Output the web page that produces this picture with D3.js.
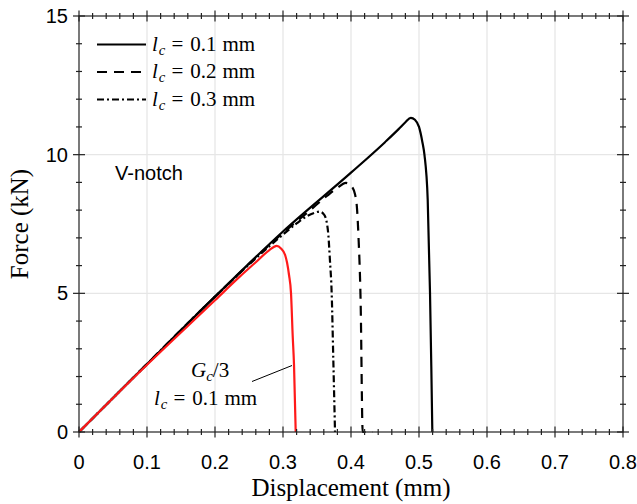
<!DOCTYPE html>
<html><head><meta charset="utf-8">
<script src="https://cdn.jsdelivr.net/npm/d3@7"></script>
<style>body{margin:0;background:#fff}svg{display:block}</style>
</head><body><svg id="c" width="637" height="504"></svg>
<script>
// ---- data ----
const xTicks = [0,0.1,0.2,0.3,0.4,0.5,0.6,0.7,0.8];
const yTicks = [0,5,10,15];
const xTickLabels = ["0","0.1","0.2","0.3","0.4","0.5","0.6","0.7","0.8"];
const yTickLabels = ["0","5","10","15"];
const legendLabels = ["0.1","0.2","0.3"];

const lc01_d = [0,0.1,0.2,0.3,0.4,0.45,0.47,0.48,0.488,0.494,0.5,0.505,0.508,0.5128,0.5162,0.5181,0.5196];
const lc01_F = [0,2.45,4.88,7.23,9.35,10.45,10.92,11.17,11.33,11.26,11.0,10.45,10.0,8.38,5.0,2.36,0];

const lc02_d = [0,0.1,0.2,0.3,0.34,0.364,0.38,0.3926,0.4,0.406,0.409,0.411,0.4142,0.4172,0.432];
const lc02_F = [0,2.45,4.88,7.18,8.0,8.5,8.8,8.98,8.88,8.56,8.0,7.05,4.65,0,0];

const lc03_d = [0,0.1,0.2,0.3,0.32,0.335,0.346,0.354,0.36,0.364,0.3667,0.369,0.3716,0.374,0.3765];
const lc03_F = [0,2.45,4.88,7.12,7.52,7.78,7.9,7.95,7.85,7.6,7.1,6.2,5.0,2.6,0];

const gc3_d = [0,0.0897,0.2,0.2368,0.26,0.28,0.2907,0.297,0.303,0.306,0.3088,0.3118,0.3142,0.3162,0.3187];
const gc3_F = [0,2.18,4.75,5.61,6.12,6.56,6.71,6.62,6.39,6.1,5.67,5.0,3.5,2.42,0];

// ---- layout ----
const W=637,H=504, m={l:79,r:14,t:16,b:72};
const svg=d3.select("#c");
const x=d3.scaleLinear().domain([0,0.8]).range([m.l,W-m.r]);
const y=d3.scaleLinear().domain([0,15]).range([H-m.b,m.t]);
const sans="'Liberation Sans', Arial, Helvetica, sans-serif";
const serif="'Liberation Serif','Times New Roman', serif";

// grid
const g=svg.append("g");
g.selectAll("line.gx").data(xTicks.slice(1,-1)).join("line")
 .attr("x1",d=>x(d)).attr("x2",d=>x(d)).attr("y1",y(0)).attr("y2",y(15))
 .attr("stroke","#e6e6e6").attr("stroke-width",1.3);
g.selectAll("line.gy").data(yTicks.slice(1,-1)).join("line")
 .attr("y1",d=>y(d)).attr("y2",d=>y(d)).attr("x1",x(0)).attr("x2",x(0.8))
 .attr("stroke","#e6e6e6").attr("stroke-width",1.3);

// curves
const line=d3.line().curve(d3.curveMonotoneX);
function draw(ds,Fs,color,dash){
  const pts=ds.map((d,i)=>[x(d),y(Fs[i])]);
  svg.append("path").attr("d",line(pts)).attr("fill","none")
    .attr("stroke",color).attr("stroke-width",2.2)
    .attr("stroke-dasharray",dash||null).attr("stroke-linejoin","round");
}
draw(lc03_d,lc03_F,"#000","7,3,2,3");
draw(lc02_d,lc02_F,"#000","10,7");
draw(lc01_d,lc01_F,"#000",null);
draw(gc3_d,gc3_F,"#ff1a1a",null);

// axes
const axCol="#222";
const minorX=d3.range(0,0.8001,0.02).filter(v=>Math.abs(v*10-Math.round(v*10))>1e-6);
const minorY=d3.range(0,15.001,1).filter(v=>v%5!==0);
const ax=svg.append("g").attr("stroke",axCol).attr("stroke-width",1.2);
ax.append("rect").attr("x",x(0)).attr("y",y(15)).attr("width",x(0.8)-x(0)).attr("height",y(0)-y(15)).attr("fill","none");
[y(0),y(15)].forEach(yy=>{
  ax.selectAll(null).data(xTicks).join("line").attr("x1",d=>x(d)).attr("x2",d=>x(d)).attr("y1",yy-5.5).attr("y2",yy+5.5);
  ax.selectAll(null).data(minorX).join("line").attr("x1",d=>x(d)).attr("x2",d=>x(d)).attr("y1",yy-3).attr("y2",yy+3);
});
[x(0),x(0.8)].forEach(xx=>{
  ax.selectAll(null).data(yTicks).join("line").attr("y1",d=>y(d)).attr("y2",d=>y(d)).attr("x1",xx-6).attr("x2",xx+6);
  ax.selectAll(null).data(minorY).join("line").attr("y1",d=>y(d)).attr("y2",d=>y(d)).attr("x1",xx-3).attr("x2",xx+3);
});
// tick labels
svg.selectAll("text.xl").data(xTicks).join("text").attr("x",d=>x(d)).attr("y",y(0)+37)
 .attr("text-anchor","middle").attr("font-family",sans).attr("font-size",20).text((d,i)=>xTickLabels[i]);
svg.selectAll("text.yl").data(yTicks).join("text").attr("x",x(0)-11).attr("y",d=>y(d)+7)
 .attr("text-anchor","end").attr("font-family",sans).attr("font-size",20).text((d,i)=>yTickLabels[i]);

// axis titles
svg.append("text").attr("x",(x(0)+x(0.8))/2).attr("y",496).attr("text-anchor","middle")
 .attr("font-family",serif).attr("font-size",25).text("Displacement (mm)");
svg.append("text").attr("transform",`translate(28,${(y(0)+y(15))/2}) rotate(-90)`).attr("text-anchor","middle")
 .attr("font-family",serif).attr("font-size",25).text("Force (kN)");

// lc label helper (math-style spacing)
function lcText(sel,xx,yy,val,size){
  const t=sel.append("text").attr("x",xx).attr("y",yy).attr("font-family",serif).attr("font-size",size);
  t.append("tspan").attr("font-style","italic").text("l");
  t.append("tspan").attr("font-style","italic").attr("font-size",size*0.7).attr("dy",4).attr("dx",1).text("c");
  t.append("tspan").attr("dy",-4).attr("dx",6).text("=");
  t.append("tspan").attr("dx",7).text(val);
  t.append("tspan").attr("dx",6).text("mm");
  return t;
}
// legend
const legY=[44.5,72,99.5];
const dashes=[null,"10,7","7,3,2,3"];
legY.forEach((ly,i)=>{
  svg.append("line").attr("x1",97).attr("x2",146).attr("y1",ly).attr("y2",ly)
    .attr("stroke","#000").attr("stroke-width",2.2).attr("stroke-dasharray",dashes[i]);
  lcText(svg,152,ly+6,legendLabels[i],21);
});

// V-notch
svg.append("text").attr("x",115).attr("y",180).attr("font-family",sans).attr("font-size",20).text("V-notch");

// annotation
const at=svg.append("text").attr("x",191).attr("y",377).attr("font-family",serif).attr("font-size",21);
at.append("tspan").attr("font-style","italic").text("G");
at.append("tspan").attr("font-style","italic").attr("font-size",15).attr("dy",4).text("c");
at.append("tspan").attr("dy",-4).text("/3");
lcText(svg,154,405,"0.1",21);
svg.append("line").attr("x1",252).attr("y1",381.5).attr("x2",292).attr("y2",365.5).attr("stroke","#000").attr("stroke-width",1);
</script></body></html>
